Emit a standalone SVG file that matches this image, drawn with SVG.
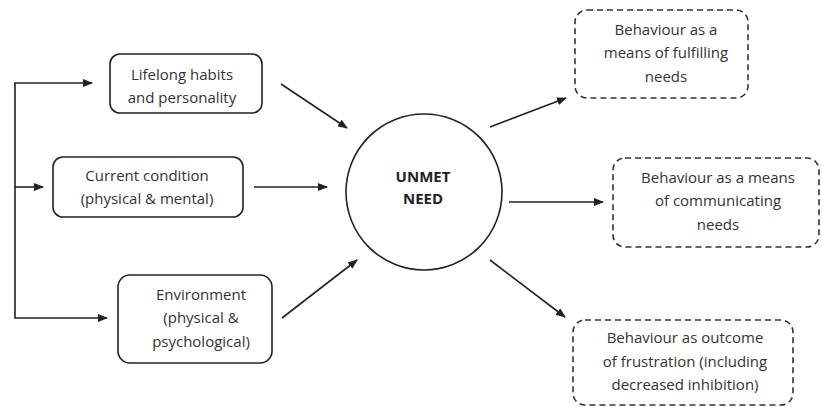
<svg xmlns="http://www.w3.org/2000/svg" width="822" height="407" viewBox="0 0 822 407">
<style>
.box{fill:#fff;stroke:#222;stroke-width:1.6}
.dash{fill:#fff;stroke:#333;stroke-width:1.6;stroke-dasharray:6,4}
.c{fill:none;stroke:#222;stroke-width:1.6}
text{font-family:"Open Sans","Liberation Sans",sans-serif;font-size:15px;fill:#333;text-anchor:middle}
.b{font-weight:bold;fill:#222}
</style>
<defs>
<marker id="ah" markerWidth="10" markerHeight="8" refX="9" refY="4" orient="auto" markerUnits="userSpaceOnUse">
<path d="M0,0 L10,4 L0,8 Z" fill="#222"/>
</marker>
</defs>
<rect width="822" height="407" fill="#fff"/>
<g id="connectors">
<polyline class="c" points="15,83 15,318 107,318" marker-end="url(#ah)"/>
<line class="c" x1="14.2" y1="83" x2="92" y2="83" marker-end="url(#ah)"/>
<line class="c" x1="15" y1="187" x2="43" y2="187" marker-end="url(#ah)"/>
<line class="c" x1="281" y1="84" x2="347" y2="128" marker-end="url(#ah)"/>
<line class="c" x1="254" y1="187" x2="327" y2="187" marker-end="url(#ah)"/>
<line class="c" x1="282" y1="318" x2="357" y2="260" marker-end="url(#ah)"/>
<line class="c" x1="490" y1="127" x2="566" y2="98" marker-end="url(#ah)"/>
<line class="c" x1="509" y1="202" x2="603" y2="202" marker-end="url(#ah)"/>
<line class="c" x1="490" y1="260" x2="565" y2="317" marker-end="url(#ah)"/>
</g>
<g id="lifelong">
<rect class="box" x="110" y="54" width="152" height="59" rx="10"/>
<text x="182" y="80">Lifelong habits</text>
<text x="182" y="103">and personality</text>
</g>
<g id="current">
<rect class="box" x="53" y="157" width="190" height="60" rx="10"/>
<text x="147" y="181">Current condition</text>
<text x="147" y="204">(physical &amp; mental)</text>
</g>
<g id="environment">
<rect class="box" x="118" y="275" width="154" height="88" rx="12"/>
<text x="201" y="300">Environment</text>
<text x="201" y="323">(physical &amp;</text>
<text x="201" y="347">psychological)</text>
</g>
<g id="unmet">
<circle class="box" cx="424" cy="192" r="78"/>
<text class="b" x="423" y="182">UNMET</text>
<text class="b" x="423" y="204">NEED</text>
</g>
<g id="fulfilling">
<rect class="dash" x="575" y="10" width="173" height="88" rx="12"/>
<text x="666" y="35">Behaviour as a</text>
<text x="666" y="58">means of fulfilling</text>
<text x="666" y="82">needs</text>
</g>
<g id="communicating">
<rect class="dash" x="613" y="158" width="206" height="89" rx="12"/>
<text x="718" y="183">Behaviour as a means</text>
<text x="718" y="206">of communicating</text>
<text x="718" y="230">needs</text>
</g>
<g id="frustration">
<rect class="dash" x="573" y="320" width="220" height="85" rx="12"/>
<text x="685" y="343">Behaviour as outcome</text>
<text x="685" y="367">of frustration (including</text>
<text x="685" y="390">decreased inhibition)</text>
</g>
</svg>
